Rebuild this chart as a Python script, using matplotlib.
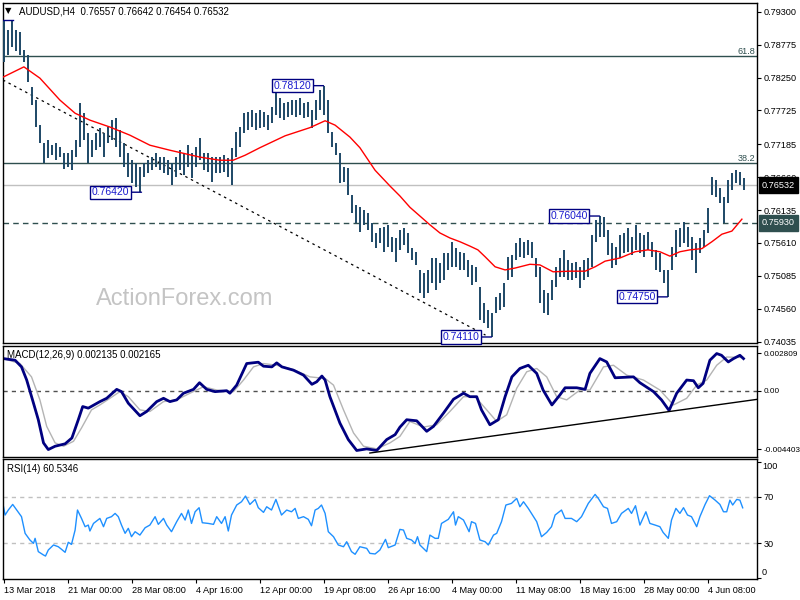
import numpy as np
import matplotlib.pyplot as plt

plt.rcParams['font.family'] = ['Liberation Sans', 'DejaVu Sans']

# ---- price bars (one bar per 8h slot), high / low ----
bar_high = [
    0.7916, 0.7901, 0.7916, 0.7901, 0.7898, 0.7869, 0.7861, 0.7810, 0.7789, 0.7749,
    0.7720, 0.7725, 0.7717, 0.7720, 0.7714, 0.7704, 0.7705, 0.7709, 0.7725, 0.7784,
    0.7768, 0.7736, 0.7725, 0.7736, 0.7744, 0.7736, 0.7746, 0.7757, 0.7760, 0.7741,
    0.7720, 0.7704, 0.7693, 0.7688, 0.7682, 0.7688, 0.7693, 0.7698, 0.7705, 0.7698,
    0.7698, 0.7693, 0.7688, 0.7698, 0.7709, 0.7704, 0.7717, 0.7704, 0.7714, 0.7728,
    0.7705, 0.7704, 0.7698, 0.7698, 0.7698, 0.7701, 0.7696, 0.7712, 0.7738, 0.7746,
    0.7768, 0.7770, 0.7773, 0.7768, 0.7773, 0.7770, 0.7765, 0.7778, 0.7805, 0.7792,
    0.7784, 0.7786, 0.7789, 0.7789, 0.7792, 0.7784, 0.7786, 0.7773, 0.7789, 0.7805,
    0.7812, 0.7789, 0.7738, 0.7720, 0.7704, 0.7682, 0.7680, 0.7638, 0.7622, 0.7619,
    0.7614, 0.7609, 0.7593, 0.7577, 0.7585, 0.7587, 0.7590, 0.7571, 0.7569, 0.7582,
    0.7585, 0.7577, 0.7553, 0.7547, 0.7518, 0.7513, 0.7518, 0.7537, 0.7537, 0.7529,
    0.7545, 0.7545, 0.7563, 0.7553, 0.7547, 0.7545, 0.7534, 0.7526, 0.7523, 0.7490,
    0.7465, 0.7454, 0.7449, 0.7475, 0.7481, 0.7497, 0.7539, 0.7542, 0.7561, 0.7569,
    0.7563, 0.7566, 0.7563, 0.7537, 0.7523, 0.7486, 0.7481, 0.7502, 0.7523, 0.7537,
    0.7550, 0.7534, 0.7529, 0.7531, 0.7523, 0.7534, 0.7537, 0.7574, 0.7598, 0.7604,
    0.7603, 0.7582, 0.7561, 0.7555, 0.7574, 0.7577, 0.7585, 0.7571, 0.7590, 0.7577,
    0.7574, 0.7579, 0.7563, 0.7550, 0.7545, 0.7518, 0.7518, 0.7555, 0.7582, 0.7585,
    0.7595, 0.7587, 0.7571, 0.7561, 0.7569, 0.7582, 0.7617, 0.7666, 0.7661, 0.7649,
    0.7635, 0.7661, 0.7672, 0.7677, 0.7674, 0.7664,
]
bar_low = [
    0.7849, 0.7861, 0.7874, 0.7868, 0.7861, 0.7849, 0.7818, 0.7781, 0.7746, 0.7720,
    0.7688, 0.7697, 0.7701, 0.7693, 0.7698, 0.7679, 0.7682, 0.7677, 0.7698, 0.7714,
    0.7725, 0.7688, 0.7698, 0.7709, 0.7714, 0.7698, 0.7720, 0.7725, 0.7714, 0.7698,
    0.7682, 0.7666, 0.7657, 0.7650, 0.7642, 0.7666, 0.7672, 0.7677, 0.7682, 0.7677,
    0.7672, 0.7669, 0.7654, 0.7666, 0.7677, 0.7669, 0.7682, 0.7664, 0.7682, 0.7693,
    0.7677, 0.7674, 0.7658, 0.7672, 0.7672, 0.7674, 0.7666, 0.7654, 0.7698, 0.7714,
    0.7736, 0.7741, 0.7746, 0.7741, 0.7744, 0.7746, 0.7741, 0.7752, 0.7765, 0.7760,
    0.7757, 0.7762, 0.7765, 0.7762, 0.7765, 0.7760, 0.7762, 0.7744, 0.7757, 0.7773,
    0.7765, 0.7736, 0.7714, 0.7701, 0.7657, 0.7658, 0.7638, 0.7609, 0.7593, 0.7579,
    0.7590, 0.7582, 0.7563, 0.7553, 0.7561, 0.7547, 0.7555, 0.7547, 0.7531, 0.7550,
    0.7558, 0.7545, 0.7534, 0.7526, 0.7481, 0.7473, 0.7481, 0.7497, 0.7486, 0.7497,
    0.7502, 0.7518, 0.7523, 0.7523, 0.7518, 0.7518, 0.7507, 0.7494, 0.7499, 0.7438,
    0.7433, 0.7425, 0.7411, 0.7449, 0.7454, 0.7459, 0.7502, 0.7507, 0.7534, 0.7539,
    0.7537, 0.7542, 0.7537, 0.7507, 0.7465, 0.7449, 0.7446, 0.7470, 0.7491, 0.7507,
    0.7507, 0.7502, 0.7502, 0.7505, 0.7489, 0.7502, 0.7507, 0.7523, 0.7563, 0.7571,
    0.7571, 0.7542, 0.7521, 0.7526, 0.7537, 0.7545, 0.7547, 0.7542, 0.7550, 0.7545,
    0.7539, 0.7550, 0.7539, 0.7518, 0.7515, 0.7497, 0.7475, 0.7518, 0.7539, 0.7555,
    0.7561, 0.7555, 0.7534, 0.7513, 0.7545, 0.7555, 0.7577, 0.7638, 0.7635, 0.7625,
    0.7593, 0.7625, 0.7646, 0.7657, 0.7654, 0.7645,
]

# moving average (red)
ma_idx = [0.0, 5.1, 9.1, 14.1, 17.9, 21.6, 26.6, 31.6, 36.6, 41.6,
          49.1, 54.1, 57.4, 60.4, 64.1, 70.4, 76.6, 80.4, 82.9, 86.6,
          89.1, 92.9, 96.6, 99.1, 101.6, 104.1, 106.6, 109.1, 111.6, 114.1,
          116.6, 118.6, 120.4, 122.9, 125.4, 127.9, 131.6, 134.1, 137.4, 141.6,
          145.4, 147.9, 150.4, 154.1, 157.9, 161.1, 164.1, 166.6, 169.1, 171.6,
          174.6, 177.1, 179.6, 182.1, 184.6]
ma_val = [0.7826, 0.7842, 0.7824, 0.7789, 0.7768, 0.7757, 0.7746, 0.7733, 0.7717, 0.7709,
          0.7698, 0.7693, 0.7693, 0.7701, 0.7713, 0.7732, 0.7745, 0.7756, 0.7749, 0.7730,
          0.7713, 0.7677, 0.7652, 0.7636, 0.7618, 0.7604, 0.7590, 0.7577, 0.7569, 0.7563,
          0.7556, 0.7550, 0.7539, 0.7523, 0.7518, 0.7521, 0.7527, 0.7526, 0.7515, 0.7516,
          0.7516, 0.7523, 0.7532, 0.7537, 0.7547, 0.7550, 0.7547, 0.7540, 0.7547, 0.7550,
          0.7552, 0.7563, 0.7575, 0.7580, 0.7599]

price_ticks = [0.79300, 0.78775, 0.78250, 0.77725, 0.77185, 0.76660,
               0.76135, 0.75610, 0.75085, 0.74560, 0.74035]
fib_levels = [0.76890, 0.78590]
fib_labels = ['38.2', '61.8']
last_price = 0.76532
support = 0.75930
trend_idx = [-0.125, 120.5]
trend_val = [0.7821, 0.7414]
tag_idx = [80, 34.5, 122, 149, 166]
tag_price = [0.78120, 0.76420, 0.74110, 0.76040, 0.74750]

# MACD(12,26,9)
macd_idx = [0.0, 2.9, 4.5, 5.8, 7.5, 8.7, 10.0, 11.2, 12.9, 15.4,
            17.1, 18.7, 19.8, 21.2, 24.1, 25.8, 28.3, 29.5, 31.2, 34.1,
            35.8, 38.3, 40.0, 41.6, 43.3, 45.0, 47.5, 49.0, 50.8, 52.9,
            55.8, 56.6, 58.3, 60.8, 63.7, 65.0, 67.1, 68.3, 69.6, 72.5,
            75.0, 77.1, 78.3, 79.6, 80.4, 81.6, 84.1, 86.2, 88.3, 90.8,
            93.3, 95.8, 97.9, 99.1, 100.8, 103.3, 105.8, 107.5, 110.0, 112.5,
            115.0, 116.6, 118.3, 119.5, 121.6, 123.7, 125.4, 127.1, 129.1, 131.2,
            133.3, 134.9, 137.1, 139.1, 140.4, 143.3, 145.4, 146.6, 149.1, 150.8,
            152.9, 157.5, 159.1, 162.5, 164.5, 166.4, 168.3, 170.8, 172.5, 173.7,
            174.9, 176.6, 178.3, 179.5, 181.2, 182.5, 184.1, 185.0]
macd_val = [0.00241, 0.00229, 0.00179, 0.00080, -0.00094, -0.00218, -0.00392, -0.00442, -0.00417, -0.00399,
            -0.00355, -0.00218, -0.00119, -0.00131, -0.00082, -0.00057, 0.00010, -0.00007, -0.00094, -0.00188,
            -0.00156, -0.00082, -0.00057, -0.00082, -0.00069, -0.00019, 0.00010, 0.00060, 0.00010, -0.00007,
            0.0, -0.00019, 0.00042, 0.00204, 0.00214, 0.00184, 0.00179, 0.00209, 0.00179, 0.00154,
            0.00117, 0.00048, 0.00067, 0.00110, 0.00080, -0.00045, -0.00243, -0.00367, -0.00449, -0.00437,
            -0.00449, -0.00367, -0.00330, -0.00274, -0.00218, -0.00226, -0.00305, -0.00268, -0.00168, -0.00064,
            -0.00019, -0.00045, -0.00045, -0.00144, -0.00256, -0.00218, -0.00045, 0.00104, 0.00167, 0.00191,
            0.00130, 0.00005, -0.00107, -0.00032, 0.00022, 0.00022, 0.00010, 0.00130, 0.00241, 0.00216,
            0.00097, 0.00104, 0.00060, -0.00007, -0.00069, -0.00149, -0.00019, 0.00080, 0.00075, 0.00022,
            0.00055, 0.00229, 0.00279, 0.00266, 0.00216, 0.00241, 0.00266, 0.00241]
sig_idx = [0.0, 4.1, 7.0, 9.1, 10.8, 12.9, 15.0, 17.5, 19.5, 22.0,
           24.1, 26.6, 29.1, 31.2, 34.1, 36.6, 40.0, 43.3, 46.6, 50.0,
           53.3, 57.5, 60.0, 62.5, 65.0, 68.3, 72.5, 76.6, 80.4, 82.5,
           85.0, 87.5, 90.0, 93.3, 96.6, 99.1, 101.6, 105.0, 108.3, 111.6,
           115.0, 117.9, 120.8, 123.3, 125.8, 128.3, 130.8, 133.3, 135.8, 138.3,
           140.8, 144.1, 146.6, 150.0, 152.5, 155.8, 160.0, 164.1, 167.5, 170.8,
           173.3, 175.8, 178.3, 180.8, 185.0]
sig_val = [0.00241, 0.00204, 0.00104, -0.00069, -0.00268, -0.00392, -0.00417, -0.00380, -0.00280, -0.00144,
           -0.00107, -0.00057, -0.00007, -0.00045, -0.00144, -0.00156, -0.00082, -0.00069, -0.00019, 0.00030,
           0.00005, -0.00007, 0.00080, 0.00179, 0.00204, 0.00191, 0.00159, 0.00104, 0.00092, 0.00042,
           -0.00144, -0.00317, -0.00417, -0.00437, -0.00392, -0.00343, -0.00231, -0.00273, -0.00256, -0.00156,
           -0.00045, -0.00045, -0.00144, -0.00231, -0.00181, 0.00018, 0.00142, 0.00167, 0.00104, -0.00045,
           -0.00069, 0.00005, 0.00005, 0.00179, 0.00191, 0.00117, 0.00080, 0.00005, -0.00107, -0.00057,
           0.00042, 0.00080, 0.00191, 0.00253, 0.00249]
macd_trend_idx = [91.6, 188.4]
macd_trend_val = [-0.00468, -0.00065]
macd_ticks = [0.002809, 0.0, -0.004403]
macd_tick_labels = ['0.002809', '0.00', '-0.004403']

# RSI(14)
rsi_idx = [0.0, 0.4, 1.2, 2.3, 3.3, 4.5, 5.4, 6.6, 7.5, 7.9,
           8.7, 10.0, 10.5, 11.2, 12.5, 13.7, 14.5, 15.4, 16.2, 17.0,
           17.9, 18.5, 19.5, 20.4, 21.2, 21.6, 22.5, 24.1, 25.0, 25.8,
           27.0, 27.9, 28.7, 29.5, 30.4, 31.2, 32.0, 32.9, 34.1, 35.4,
           36.6, 37.9, 38.7, 40.0, 40.8, 42.0, 43.3, 44.5, 45.4, 46.2,
           47.0, 47.9, 48.9, 49.7, 51.2, 52.5, 53.3, 54.5, 55.4, 56.2,
           57.0, 58.3, 59.5, 60.5, 61.6, 62.9, 63.7, 65.0, 65.8, 67.0,
           68.1, 69.5, 70.8, 72.0, 72.9, 73.7, 75.0, 76.2, 77.0, 77.9,
           78.7, 79.5, 80.4, 81.2, 82.5, 83.7, 85.0, 85.8, 87.0, 87.9,
           89.1, 90.8, 91.6, 92.9, 94.1, 95.5, 96.2, 97.9, 99.1,
           100.0, 100.8, 102.0, 102.9, 103.5, 104.1, 105.8, 106.6, 107.9, 108.7,
           109.5, 111.2, 112.5, 113.0, 113.7, 115.0, 116.4, 117.0, 118.0, 119.1,
           120.4, 121.2, 122.5, 123.3, 124.5, 125.6, 127.0, 128.3, 129.1, 130.0,
           131.2, 132.5, 133.3, 134.5, 135.8, 137.0, 137.9, 139.5, 140.4, 142.0,
           143.3, 144.5, 146.2, 147.9, 148.7, 150.0, 151.0, 152.0, 153.3, 154.5,
           156.2, 157.0, 158.0, 159.1, 160.6, 161.6, 162.9, 164.1, 164.9, 166.2,
           167.0, 168.1, 169.1, 170.0, 171.0, 172.0, 173.3, 174.1, 175.4, 176.5,
           177.9, 179.1, 180.0, 180.8, 181.6, 182.3, 183.3, 184.1, 184.8]
rsi_val = [61.4, 54.3, 58.6, 63.4, 58.6, 52.9, 38.6, 32.9, 30.0, 34.3,
           22.9, 20.0, 19.1, 24.3, 28.6, 27.1, 24.9, 22.3, 30.9, 29.1,
           41.4, 58.6, 51.4, 44.3, 45.7, 40.6, 47.1, 51.4, 44.3, 51.4,
           52.9, 55.7, 52.9, 45.7, 38.6, 42.9, 35.7, 40.0, 37.1, 43.4,
           45.7, 52.9, 46.3, 51.4, 45.7, 40.0, 48.6, 55.7, 50.0, 58.6,
           47.1, 57.1, 60.6, 47.7, 47.1, 46.3, 52.9, 47.1, 52.9, 40.6,
           54.3, 62.9, 65.7, 70.6, 63.4, 67.7, 60.6, 56.6, 61.4, 58.6,
           67.7, 54.3, 58.6, 57.1, 60.0, 51.4, 52.9, 50.6, 45.1, 58.6,
           60.0, 62.9, 55.7, 40.0, 35.7, 28.6, 27.1, 31.4, 22.9, 20.6,
           27.1, 25.7, 21.4, 20.9, 24.3, 33.4, 26.3, 28.6, 42.0,
           41.4, 34.3, 32.9, 30.0, 35.7, 28.6, 22.9, 37.1, 34.3, 34.3,
           47.1, 50.6, 57.1, 45.7, 52.9, 50.0, 40.0, 48.6, 47.1, 32.9,
           31.4, 28.6, 37.1, 38.6, 48.6, 62.9, 64.3, 68.6, 61.4, 65.7,
           60.0, 52.9, 48.6, 35.7, 39.4, 44.3, 54.3, 58.6, 51.4, 51.4,
           48.6, 52.9, 64.3, 72.0, 68.6, 61.4, 60.0, 47.1, 48.6, 55.7,
           60.0, 55.7, 62.3, 45.7, 57.1, 47.1, 45.7, 44.3, 39.4, 34.3,
           50.0, 60.0, 55.7, 60.6, 54.3, 52.9, 44.3, 52.9, 63.4, 70.9,
           67.1, 63.4, 57.1, 57.1, 67.1, 62.9, 67.7, 67.1, 60.5]
rsi_levels = [70, 30]

date_ticks = [0, 16, 32, 48, 64, 80, 96, 112, 128, 144, 160, 176]
date_labels = ['13 Mar 2018', '21 Mar 00:00', '28 Mar 08:00', '4 Apr 16:00',
               '12 Apr 00:00', '19 Apr 08:00', '26 Apr 16:00', '4 May 00:00',
               '11 May 08:00', '18 May 16:00', '28 May 00:00', '4 Jun 08:00']

BAR = '#1d4866'
NAVY = '#000080'
SLATE = '#2f4f4f'
FS = 6.6

fig = plt.figure(figsize=(8, 6), dpi=100)
ax = fig.add_axes([3 / 800, 257 / 600, 754 / 800, 340 / 600])
ax_m = fig.add_axes([3 / 800, 143 / 600, 754 / 800, 111 / 600])
ax_r = fig.add_axes([3 / 800, 21 / 600, 754 / 800, 120 / 600])

for a in (ax, ax_m, ax_r):
    a.set_xlim(-0.125, 188.375)
    for s in a.spines.values():
        s.set_color('black')
        s.set_linewidth(1)
    a.yaxis.tick_right()
    a.tick_params(axis='y', direction='out', length=3, width=0.8, labelsize=FS, pad=2)
    a.tick_params(axis='x', bottom=False, labelbottom=False)

# ---- main price panel ----
x = np.arange(len(bar_high))
ax.set_ylim(0.74014, 0.79439)
ax.text(0.1233, 0.129, 'ActionForex.com', transform=ax.transAxes, fontsize=17,
        color='#c4c4c4', va='center', ha='left', zorder=0)
for lvl, lab in zip(fib_levels, fib_labels):
    ax.axhline(lvl, color=SLATE, lw=1, zorder=2)
    ax.text(1 - 2 / 754, lvl, lab, transform=ax.get_yaxis_transform(), ha='right',
            va='bottom', fontsize=FS, color=SLATE)
ax.axhline(last_price, color='#c0c0c0', lw=1, zorder=1)
ax.axhline(support, color=SLATE, lw=1, ls=(0, (4, 3)), zorder=2)
ax.plot(trend_idx, trend_val, color='black', lw=0.9, ls=(0, (2, 3)), zorder=2)
ax.vlines(x, bar_low, bar_high, color=BAR, lw=1.4, zorder=3)
ax.plot(ma_idx, ma_val, color='red', lw=1, zorder=4)
ax.plot([-0.125, 2.45], [bar_high[0], bar_high[0]], color=NAVY, lw=1, zorder=5)

for i, p in zip(tag_idx, tag_price):
    ax.annotate(f'{p:.5f}', xy=(i, p), xytext=(-8.6, 0), textcoords='offset points',
                ha='right', va='center', fontsize=7.5, color='#1a1acd',
                bbox=dict(boxstyle='square,pad=0.15', fc='white', ec=NAVY, lw=1),
                arrowprops=dict(arrowstyle='-', color=NAVY, lw=1, shrinkA=0, shrinkB=0),
                zorder=6)

ax.set_yticks(price_ticks)
ax.set_yticklabels([f'{v:.5f}' for v in price_ticks])
ax.text(1 + 5 / 754, last_price, f'{last_price:.5f}', transform=ax.get_yaxis_transform(),
        ha='left', va='center', fontsize=FS, color='white', clip_on=False, zorder=10,
        bbox=dict(boxstyle='square,pad=0.35', fc='black', ec='black'))
ax.text(1 + 5 / 754, support, f'{support:.5f}', transform=ax.get_yaxis_transform(),
        ha='left', va='center', fontsize=FS, color='white', clip_on=False, zorder=10,
        bbox=dict(boxstyle='square,pad=0.35', fc=SLATE, ec=SLATE))

fig.text(5 / 800, 1 - 11 / 600, '\u25bc', fontsize=6, va='center', family='DejaVu Sans')
fig.text(19 / 800, 1 - 11 / 600, 'AUDUSD,H4  0.76557 0.76642 0.76454 0.76532',
         fontsize=7, va='center')

# ---- MACD panel ----
ax_m.set_ylim(-0.004979, 0.003357)
ax_m.axhline(0, color='#505050', lw=1, ls=(0, (3, 3)))
ax_m.plot(sig_idx, sig_val, color='#b4b4b4', lw=1)
ax_m.plot(macd_idx, macd_val, color=NAVY, lw=2)
ax_m.plot(macd_trend_idx, macd_trend_val, color='black', lw=1)
ax_m.set_yticks(macd_ticks)
ax_m.set_yticklabels(macd_tick_labels)
ax_m.tick_params(axis='y', labelsize=5.9)
fig.text(7 / 800, 1 - 355.5 / 600, 'MACD(12,26,9) 0.002135 0.002165', fontsize=7, va='center')

# ---- RSI panel ----
ax_r.set_ylim(-0.6, 102.4)
for lvl in rsi_levels:
    ax_r.axhline(lvl, color='#c0c0c0', lw=1, ls=(0, (3, 3)))
ax_r.plot(rsi_idx, rsi_val, color='#1e90ff', lw=1)
ax_r.set_yticks([0, 30, 70, 100])
ax_r.set_yticklabels(['', '30', '70', ''])
ax_r.text(1 + 5 / 754, 95.8, '100', transform=ax_r.get_yaxis_transform(), ha='left',
          va='center', fontsize=FS, clip_on=False)
ax_r.text(1 + 5 / 754, 5.1, '0', transform=ax_r.get_yaxis_transform(), ha='left',
          va='center', fontsize=FS, clip_on=False)
fig.text(7 / 800, 1 - 469 / 600, 'RSI(14) 60.5346', fontsize=7, va='center')

ax_r.tick_params(axis='x', bottom=True, labelbottom=True, length=3, width=0.8,
                 labelsize=FS, pad=2)
ax_r.set_xticks(date_ticks)
ax_r.set_xticklabels(date_labels, ha='left')

fig.savefig('out.png', dpi=100)
